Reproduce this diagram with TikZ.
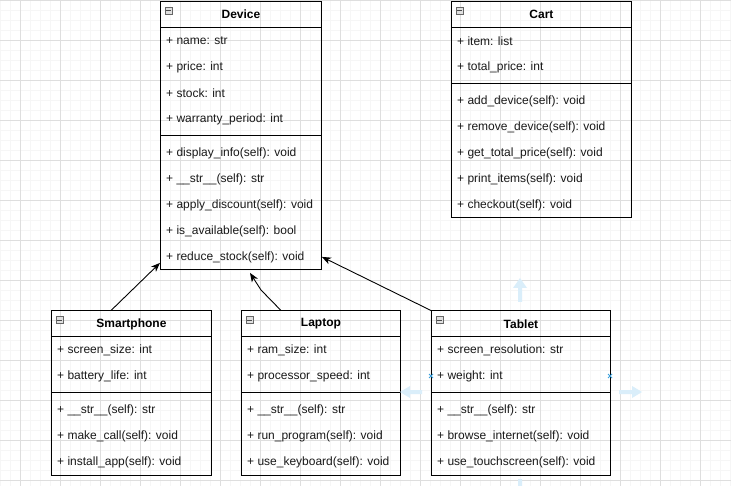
\documentclass[tikz,border=0pt]{standalone}
\usepackage{fontspec}
\setmainfont{Liberation Sans}
\usetikzlibrary{calc,arrows.meta}

\definecolor{gridminor}{RGB}{246,246,246}
\definecolor{gridmajor}{RGB}{222,222,222}
\definecolor{handle}{RGB}{218,238,250}
\definecolor{handlemark}{RGB}{60,160,220}

\tikzset{
  frame/.style={draw=black, line width=0.9pt, inner sep=0pt, anchor=north west},
  divider/.style={draw=black, line width=0.9pt},
  titletext/.style={font=\fontsize{12}{14}\selectfont\bfseries, inner sep=0pt, text=black},
  rowtext/.style={font=\fontsize{12}{14}\selectfont, inner sep=0pt, anchor=west, text=black!90},
  foldicon/.style={draw=black!60, fill=black!12, line width=0.5pt, minimum size=7pt, inner sep=0pt},
  inherit/.style={draw=black, line width=0.9pt, -{Stealth[length=9pt,width=7pt,inset=2.5pt]}},
  hoverarrow/.style={fill=handle, draw=none},
}

% \classbox{name}{left}{top}{width}{title}{attributes}{methods}{#attrs}{#methods}
\newcommand{\classbox}[9]{%
  \pgfmathsetmacro{\boxh}{26+26*#8+8+26*#9}
  \node[frame, minimum width=#4pt, minimum height=\boxh pt] (#1) at (#2,#3) {};
  \draw[divider] ($(#1.north west)+(0,26)$) -- ($(#1.north east)+(0,26)$);
  \draw[divider] ($(#1.north west)+(0,{26+26*#8+4})$) -- ($(#1.north east)+(0,{26+26*#8+4})$);
  \node[titletext] (#1-title) at ($(#1.north)+(0,13.5)$) {#5};
  \node[foldicon] (#1-fold) at ($(#1.north west)+(8.5,9.5)$) {};
  \draw[black!70, line width=0.6pt] ($(#1-fold.west)+(1.5,0)$) -- ($(#1-fold.east)+(-1.5,0)$);
  \foreach \txt [count=\i] in {#6}
    \node[rowtext] at ($(#1.north west)+(6,{26+14+26*(\i-1)})$) {\txt};
  \foreach \txt [count=\i] in {#7}
    \node[rowtext] at ($(#1.north west)+(6,{26+26*#8+8+14+26*(\i-1)})$) {\txt};
}

\begin{document}
\begin{tikzpicture}[x=1pt,y=-1pt]
  \useasboundingbox (0,0) rectangle (731,486);
  \clip (0,0) rectangle (731,486);
  \fill[white] (0,0) rectangle (731,486);

  % background grid
  \foreach \gx in {0,10,...,730} \draw[gridminor, line width=0.5pt] (\gx,0) -- (\gx,486);
  \foreach \gy in {0,10,...,480} \draw[gridminor, line width=0.5pt] (0,\gy) -- (731,\gy);
  \foreach \gx in {20,60,...,730} \draw[gridmajor, line width=0.6pt] (\gx,0) -- (\gx,486);
  \foreach \gy in {0,40,...,480} \draw[gridmajor, line width=0.6pt] (0,\gy) -- (731,\gy);

  % classes
  \classbox{device}{160}{1}{161}{Device}
    {+ name: str, + price: int, + stock: int, + warranty\_period: int}
    {+ display\_info(self): void, + \_\_str\_\_(self): str, + apply\_discount(self): void,
     + is\_available(self): bool, + reduce\_stock(self): void}{4}{5}

  \classbox{cart}{451}{1}{180}{Cart}
    {+ item: list, + total\_price: int}
    {+ add\_device(self): void, + remove\_device(self): void, + get\_total\_price(self): void,
     + print\_items(self): void, + checkout(self): void}{2}{5}

  \classbox{smart}{51}{310.5}{160}{Smartphone}
    {+ screen\_size: int, + battery\_life: int}
    {+ \_\_str\_\_(self): str, + make\_call(self): void, + install\_app(self): void}{2}{3}

  \classbox{laptop}{241}{310.5}{159}{Laptop}
    {+ ram\_size: int, + processor\_speed: int}
    {+ \_\_str\_\_(self): str, + run\_program(self): void, + use\_keyboard(self): void}{2}{3}

  \classbox{tablet}{431}{310.5}{179}{Tablet}
    {+ screen\_resolution: str, + weight: int}
    {+ \_\_str\_\_(self): str, + browse\_internet(self): void, + use\_touchscreen(self): void}{2}{3}

  % inheritance connectors
  \coordinate (laptop-bend) at (261,290);
  \draw[inherit] ($(smart.north west)+(60,0)$) -- ($(device.south west)+(0,-7)$);
  \draw[inherit] ($(laptop.north west)+(40,0)$) -- (laptop-bend) -- ($(device.south west)+(90,3)$);
  \draw[inherit] (tablet.north west) -- ($(device.south east)+(0,-13)$);

  % selection handles around Tablet
  \fill[hoverarrow] (518,302) -- (518,288) -- (513,288) -- (520,278) -- (527,288) -- (522,288) -- (522,302) -- cycle;
  \fill[hoverarrow] (518,479) -- (518,493) -- (513,493) -- (520,503) -- (527,493) -- (522,493) -- (522,479) -- cycle;
  \fill[hoverarrow] (422,390) -- (410,390) -- (410,386) -- (400,392) -- (410,398) -- (410,394) -- (422,394) -- cycle;
  \fill[hoverarrow] (619,390) -- (632,390) -- (632,386) -- (642,392) -- (632,398) -- (632,394) -- (619,394) -- cycle;
  \foreach \hx in {431,610}
    \draw[handlemark, line width=0.8pt] (\hx-2,374) -- (\hx+2,378) (\hx-2,378) -- (\hx+2,374);
\end{tikzpicture}
\end{document}
